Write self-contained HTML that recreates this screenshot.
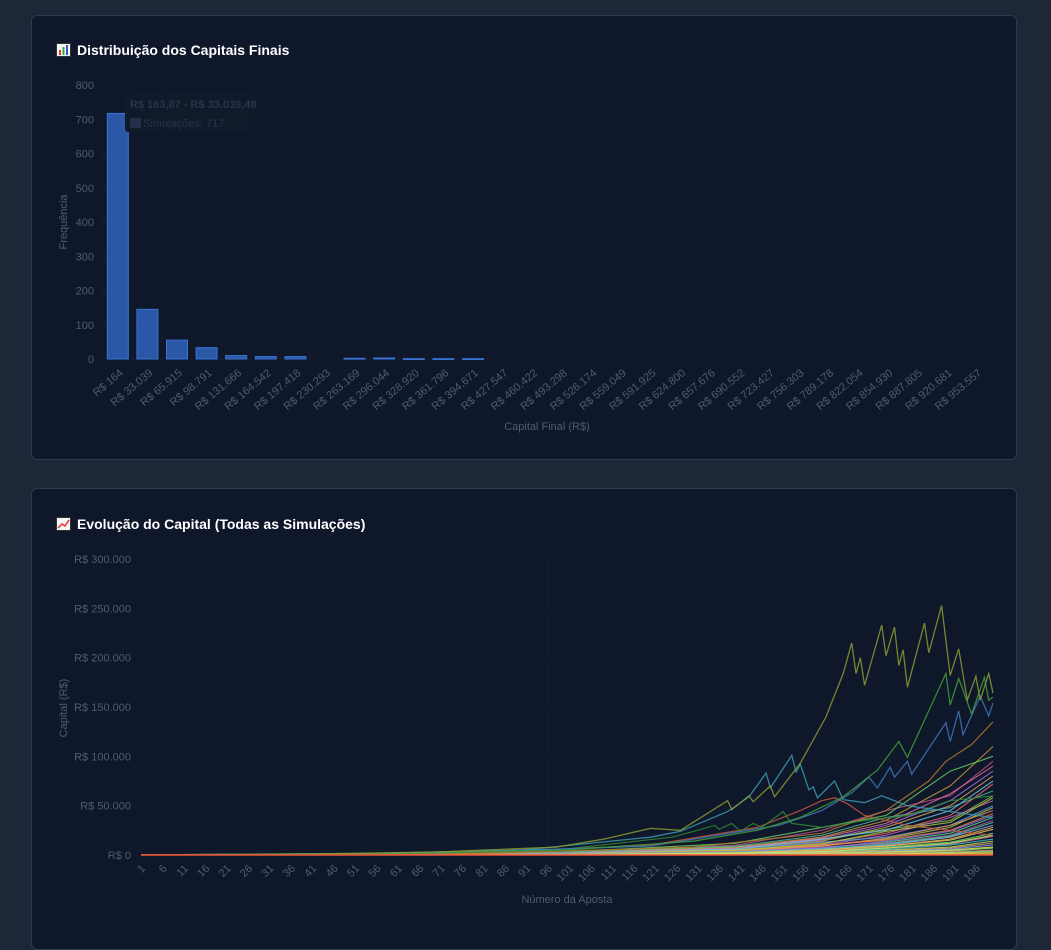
<!DOCTYPE html>
<html><head><meta charset="utf-8">
<style>
html,body{margin:0;padding:0;background:#1e2738;width:1051px;height:925px;overflow:hidden;font-family:"Liberation Sans",sans-serif;}
.card{position:absolute;left:31px;width:984px;background:#0f172a;border:1px solid #2e3a4e;border-radius:6px;}
.title{position:absolute;left:24px;top:26px;color:#fff;font-weight:bold;font-size:14px;display:flex;align-items:center;gap:6px;}
svg{position:absolute;left:0;top:0}
</style></head><body>
<div class="card" style="top:15px;height:443px;">
  <div class="title">
    <svg width="15" height="14" style="position:static"><rect x="0.5" y="0.5" width="14" height="13" fill="#f4f4f4" stroke="#333"/><rect x="3" y="7" width="2" height="5" fill="#e33"/><rect x="6.5" y="4" width="2" height="8" fill="#3a3"/><rect x="10" y="2" width="2" height="10" fill="#35c"/></svg>
    <span>Distribuição dos Capitais Finais</span>
  </div>
</div>
<div class="card" style="top:488px;height:460px;">
  <div class="title" style="top:27px">
    <svg width="15" height="14" style="position:static"><rect x="0.5" y="0.5" width="14" height="13" fill="#f4f4f4" stroke="#333"/><polyline points="2,11 6,7 9,9 13,3" fill="none" stroke="#e33" stroke-width="1.5"/></svg>
    <span>Evolução do Capital (Todas as Simulações)</span>
  </div>
</div>

<svg id="hist" width="1051" height="925"></svg>
<svg id="lines" width="1051" height="925"></svg>

<script>
// ---------- Histogram data ----------
const binLabels = ["R$ 164","R$ 33.039","R$ 65.915","R$ 98.791","R$ 131.666","R$ 164.542","R$ 197.418","R$ 230.293","R$ 263.169","R$ 296.044","R$ 328.920","R$ 361.796","R$ 394.671","R$ 427.547","R$ 460.422","R$ 493.298","R$ 526.174","R$ 559.049","R$ 591.925","R$ 624.800","R$ 657.676","R$ 690.552","R$ 723.427","R$ 756.303","R$ 789.178","R$ 822.054","R$ 854.930","R$ 887.805","R$ 920.681","R$ 953.557"];
const binCounts = [717,145,55,33,10,7,7,0,2,3,1,1,1,0,0,0,0,0,0,0,0,0,0,0,0,0,0,0,0,0];
const histTicks = [0,100,200,300,400,500,600,700,800];

// ---------- Line chart data ----------
const stepTicks = [];
for (let s = 1; s <= 196; s += 5) stepTicks.push(s);
const capitalTicks = [0,50000,100000,150000,200000,250000,300000];
const capitalTickLabels = ["R$ 0","R$ 50.000","R$ 100.000","R$ 150.000","R$ 200.000","R$ 250.000","R$ 300.000"];
const oliveSteps = [1,40,70,98,109,120,127,138,139,143,144,148,149,155,161,165,167,168,169,170,174,175,177,178,179,180,184,185,188,190,192,194,196,197,199,200];
const oliveVals  = [0.1,0.8,3,8,16,27,25,55,46,60,54,70,59,93,140,184,215,184,200,172,233,202,231,192,208,170,235,205,253,182,209,157,181,157,184,164];
const greenSteps = [1,60,100,130,145,155,165,173,178,180,189,190,192,195,198,199,200];
const greenVals  = [0.1,1.5,5,14,25,38,59,86,115,99,184,152,179,143,180,157,160];
const cyanSteps  = [1,50,90,120,127,138,143,147,148,153,154,155,157,158,159,163,165,170,174,180,190,200];
const cyanVals   = [0.1,1.2,5,18,24,44,59,83,68,101,84,92,66,69,58,75,56,53,60,50,44,38];
const blueSteps  = [1,70,120,150,160,167,171,173,176,177,180,181,189,190,192,193,197,199,200];
const blueVals   = [0.1,2,9,30,45,63,79,68,89,79,95,82,134,115,146,122,161,141,154];
const dkGreenSteps = [1,60,100,125,131,135,136,139,141,144,146,151,153,160,170,180,190,200];
const dkGreenVals  = [0.1,2,6,18,25,30,26,32,24,32,28,44,32,28,35,40,55,60];
const brownSteps = [1,80,130,160,175,185,189,195,200];
const brownVals  = [0.1,1.5,8,22,45,75,95,112,135];
const redSteps   = [1,80,120,145,155,160,163,166,170,180,190,200];
const redVals    = [0.1,2,10,28,45,55,58,52,40,30,25,20];
const bundleSteps = [1,60,100,140,160,175,190,200];
const bundleVals = [
 [0.1,0.5,2,8,18,35,70,110],
 [0.1,0.4,2,10,25,45,60,95],
 [0.1,0.6,3,12,28,40,85,100],
 [0.1,0.4,2,7,15,30,55,85],
 [0.1,0.3,1.5,6,14,28,50,80],
 [0.1,0.5,2.5,9,20,38,48,65],
 [0.1,0.3,1.2,5,12,22,40,72],
 [0.1,0.4,2,8,16,26,35,60],
 [0.1,0.3,1,4,10,20,38,55],
 [0.1,0.3,1.5,6,13,18,30,50],
 [0.1,0.2,1,4,9,16,28,48],
 [0.1,0.3,1.2,5,10,15,25,42],
 [0.1,0.2,0.8,3,7,13,22,38],
 [0.1,0.2,0.9,3.5,8,12,20,35],
 [0.1,0.2,0.7,3,6,10,18,30],
 [0.1,0.2,0.6,2.5,5,9,15,26],
 [0.1,0.1,0.5,2,4,8,13,22],
 [0.1,0.1,0.5,2,4,7,11,19],
 [0.1,0.1,0.4,1.5,3,6,10,16],
 [0.1,0.1,0.4,1.5,3,5,8,14],
 [0.1,0.1,0.3,1,2.5,4,7,12],
 [0.1,0.1,0.3,1,2,3.5,6,10],
 [0.1,0.1,0.3,0.8,1.8,3,5,8],
 [0.1,0.1,0.2,0.7,1.5,2.5,4,7],
 [0.1,0.1,0.2,0.6,1.2,2,3,5],
 [0.1,0.1,0.2,0.5,1,1.5,2.5,4],
 [0.1,0.1,0.1,0.4,0.8,1.2,2,3],
 [0.1,0.1,0.1,0.3,0.5,0.8,1.2,2],
 [0.1,0.1,0.1,0.2,0.3,0.5,0.8,1],
 [0.1,0.4,1.8,7,17,32,62,90],
 [0.1,0.3,1.4,6,16,25,45,75],
 [0.1,0.3,1.1,5,11,24,33,58],
 [0.1,0.2,0.9,4,9,17,30,45],
 [0.1,0.2,0.8,3.2,7,14,24,40],
 [0.1,0.2,0.6,2.8,6,11,19,33],
 [0.1,0.1,0.5,2.2,5,9,16,28],
 [0.1,0.1,0.4,1.8,3.5,7,12,20],
 [0.05,0.05,0.05,0.05,0.05,0.05,0.05,0.05]
];
const bundleColors = ["#c89a3c","#c0508c","#6acf6a","#a070d0","#d0a050","#4fb0a0","#e07060","#8cc04c","#d060c0","#50a0e0","#c0c050","#e08040","#60d090","#b06090","#90b0e0","#e0c060","#70d070","#d07090","#40c0c0","#c0e060","#e0a070","#80a0f0","#f0f060","#a0e080","#f08050","#60e0a0","#e0e070","#f0a040","#d0f050","#e070a0","#70c0e0","#b0d040","#e09060","#9070e0","#50d0b0","#f0b050","#c0f070","#ff5a3a"];

const NS = "http://www.w3.org/2000/svg";
function mk(parent, tag, attrs) { const e = document.createElementNS(NS, tag); for (const k in attrs) e.setAttribute(k, attrs[k]); parent.appendChild(e); return e; }

(function(){
  const svg = document.getElementById('hist');
  const x0 = 103, bw = 29.6, yBase = 359, yTop = 85, yMax = 800;
  const yS = v => yBase - v / yMax * (yBase - yTop);
  const xC = i => x0 + bw * (i + 0.5);
  const xRight = x0 + bw * binLabels.length;
  for (let i = 0; i <= binLabels.length; i++) {
    const g = mk(svg, 'line', {x1:x0+bw*i, x2:x0+bw*i, y1:yTop, y2:yBase, stroke:'#131b2c', 'stroke-width':1});
    
    
  }
  histTicks.forEach(t => {
    const g = mk(svg, 'line', {x1:x0, x2:xRight, y1:yS(t), y2:yS(t), stroke:'#131b2c', 'stroke-width':1});
    
    
    const tx = mk(svg, 'text', {x:94, y:yS(t)+4, 'text-anchor':'end', 'font-size':11, fill:'#525c6c'});
    tx.textContent = t;
    
    
  });
  binCounts.forEach((c, i) => {
    if (c <= 0) return;
    const h = yBase - yS(c);
    const r = mk(svg, 'rect', {x:xC(i)-10.5, y:yS(c), width:21, height:Math.max(h,0.8), fill:'#2a58a6', stroke:'#3a74d6', 'stroke-width':1});
    
    
  });
  binLabels.forEach((l, i) => {
    const tx = mk(svg, 'text', {x:0, y:0, 'text-anchor':'end', 'font-size':11, fill:'#525c6c', transform:`translate(${xC(i)+6},${374}) rotate(-40)`});
    tx.textContent = l;
    
    
  });
  const yt = mk(svg, 'text', {x:0, y:0, 'text-anchor':'middle', 'font-size':11, fill:'#525c6c', transform:'translate(67,222) rotate(-90)'});
  yt.textContent = 'Frequência';
  
  
  const xt = mk(svg, 'text', {x:547, y:430, 'text-anchor':'middle', 'font-size':11, fill:'#525c6c'});
  xt.textContent = 'Capital Final (R$)';
  
  
  const tt = mk(svg, 'rect', {x:125, y:92, width:130, height:40, rx:3, fill:'#111a2b'});
  
  
  const t1 = mk(svg, 'text', {x:130, y:108, 'font-size':11, 'font-weight':'bold', fill:'#2a3446'});
  t1.textContent = 'R$ 163,87 - R$ 33.039,48';
  
  
  const sq = mk(svg, 'rect', {x:130, y:118, width:11, height:10, fill:'#243049'});
  
  
  const t2 = mk(svg, 'text', {x:143, y:127, 'font-size':11, fill:'#2a3446'});
  t2.textContent = 'Simulações: 717';
  
  
})();

(function(){
  const svg = document.getElementById('lines');
  const xL = 141, xR = 993, yBase = 855, yTop = 559, yMax = 300000;
  const xS = s => xL + (s - 1) * (xR - xL) / 199;
  const yS = v => yBase - v / yMax * (yBase - yTop);
  stepTicks.forEach(s => {
    const g = mk(svg, 'line', {x1:xS(s), x2:xS(s), y1:yTop, y2:yBase, stroke:'#131b2c', 'stroke-width':1});
    
    
    const tx = mk(svg, 'text', {x:0, y:0, 'text-anchor':'end', 'font-size':11, fill:'#525c6c', transform:`translate(${xS(s)+5},${869}) rotate(-45)`});
    tx.textContent = s;
    
    
  });
  capitalTicks.forEach((t, i) => {
    const g = mk(svg, 'line', {x1:xL, x2:xR, y1:yS(t), y2:yS(t), stroke:'#131b2c', 'stroke-width':1});
    
    
    const tx = mk(svg, 'text', {x:131, y:yS(t)+4, 'text-anchor':'end', 'font-size':11, fill:'#525c6c'});
    tx.textContent = capitalTickLabels[i];
    
    
  });
  function draw(steps, vals, color, w) {
    const pts = steps.map((s, i) => xS(s).toFixed(1) + ',' + yS(vals[i] * 1000).toFixed(1)).join(' ');
    const p = mk(svg, 'polyline', {points:pts, fill:'none', stroke:color, 'stroke-width':w, 'stroke-opacity':0.85});
    
    
  }
  bundleVals.forEach((v, i) => draw(bundleSteps, v, bundleColors[i], 1.1));
  draw(redSteps, redVals, '#c8583e', 1.2);
  draw(brownSteps, brownVals, '#b07a2c', 1.2);
  draw(dkGreenSteps, dkGreenVals, '#2f8a2f', 1.2);
  draw(blueSteps, blueVals, '#3f74b8', 1.3);
  draw(cyanSteps, cyanVals, '#3a9ab0', 1.3);
  draw(greenSteps, greenVals, '#3f9a38', 1.3);
  draw(oliveSteps, oliveVals, '#8a9a30', 1.3);
  const zl = mk(svg, 'line', {x1:xL, x2:xR, y1:yBase, y2:yBase, stroke:'#f0503a', 'stroke-width':1.6});
  
  
  const yt = mk(svg, 'text', {x:0, y:0, 'text-anchor':'middle', 'font-size':11, fill:'#525c6c', transform:'translate(67,708) rotate(-90)'});
  yt.textContent = 'Capital (R$)';
  
  
  const xt = mk(svg, 'text', {x:567, y:903, 'text-anchor':'middle', 'font-size':11, fill:'#525c6c'});
  xt.textContent = 'Número da Aposta';
  
  
})();
</script>
</body></html>
